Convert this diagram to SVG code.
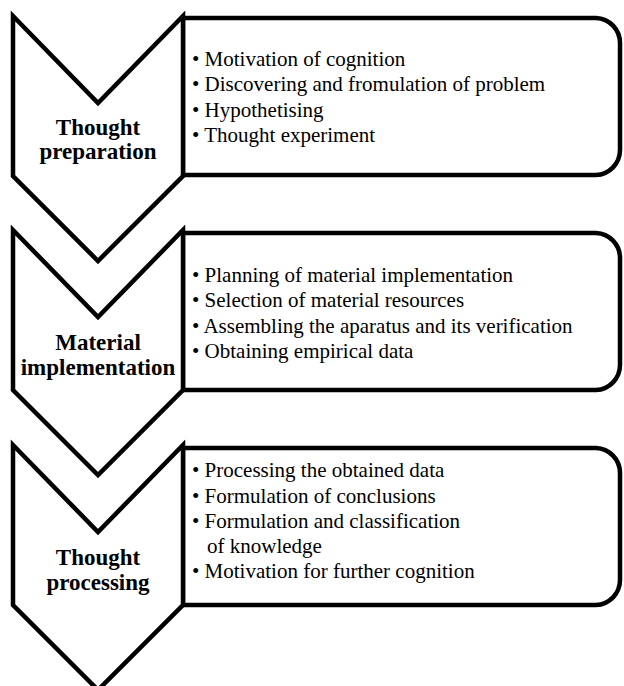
<svg xmlns="http://www.w3.org/2000/svg" width="624" height="686" viewBox="0 0 624 686" font-family="Liberation Serif, DejaVu Serif, serif">
<style>
.shape{fill:#fff;stroke:#000;stroke-width:4.5;stroke-linejoin:miter}
.lbl{font-weight:bold;font-size:23px;text-anchor:middle;fill:#000}
.item{font-size:21px;fill:#000}
</style>
<rect width="624" height="686" fill="#fff"/>
<g id="box1">
<path class="shape" d="M183,18 H596 A25,25 0 0 1 620,43 V150 A25,25 0 0 1 596,175 H183 Z"/>
<text class="item" x="192" y="66" font-family="Liberation Serif">• Motivation of cognition</text>
<text class="item" x="192" y="91" font-family="Liberation Serif">• Discovering and fromulation of problem</text>
<text class="item" x="192" y="117" font-family="Liberation Serif">• Hypothetising</text>
<text class="item" x="192" y="142" font-family="Liberation Serif">• Thought experiment</text>
</g>
<g id="box2">
<path class="shape" d="M183,233 H596 A25,25 0 0 1 620,258 V365 A25,25 0 0 1 596,390 H183 Z"/>
<text class="item" x="192" y="282" font-family="Liberation Serif">• Planning of material implementation</text>
<text class="item" x="192" y="307" font-family="Liberation Serif">• Selection of material resources</text>
<text class="item" x="192" y="333" font-family="Liberation Serif">• Assembling the aparatus and its verification</text>
<text class="item" x="192" y="358" font-family="Liberation Serif">• Obtaining empirical data</text>
</g>
<g id="box3">
<path class="shape" d="M183,448 H596 A25,25 0 0 1 620,473 V580 A25,25 0 0 1 596,605 H183 Z"/>
<text class="item" x="192" y="477" font-family="Liberation Serif">• Processing the obtained data</text>
<text class="item" x="192" y="503" font-family="Liberation Serif">• Formulation of conclusions</text>
<text class="item" x="192" y="528" font-family="Liberation Serif">• Formulation and classification</text>
<text class="item" x="207" y="553" font-family="Liberation Serif">of knowledge</text>
<text class="item" x="192" y="578" font-family="Liberation Serif">• Motivation for further cognition</text>
</g>
<g id="chevron1">
<path class="shape" d="M13,16 L98,103 L183,16 L183,176 L98,261 L13,176 Z"/>
<text class="lbl" x="98" y="135" font-family="Liberation Serif">Thought</text>
<text class="lbl" x="98" y="159" font-family="Liberation Serif">preparation</text>
</g>
<g id="chevron2">
<path class="shape" d="M13,230 L98,317 L183,230 L183,390 L98,475 L13,390 Z"/>
<text class="lbl" x="98" y="350" font-family="Liberation Serif">Material</text>
<text class="lbl" x="98" y="375" font-family="Liberation Serif">implementation</text>
</g>
<g id="chevron3">
<path class="shape" d="M13,445 L98,532 L183,445 L183,605 L98,690 L13,605 Z"/>
<text class="lbl" x="98" y="565" font-family="Liberation Serif">Thought</text>
<text class="lbl" x="98" y="590" font-family="Liberation Serif">processing</text>
</g>
<g id="connectors"></g>
</svg>
